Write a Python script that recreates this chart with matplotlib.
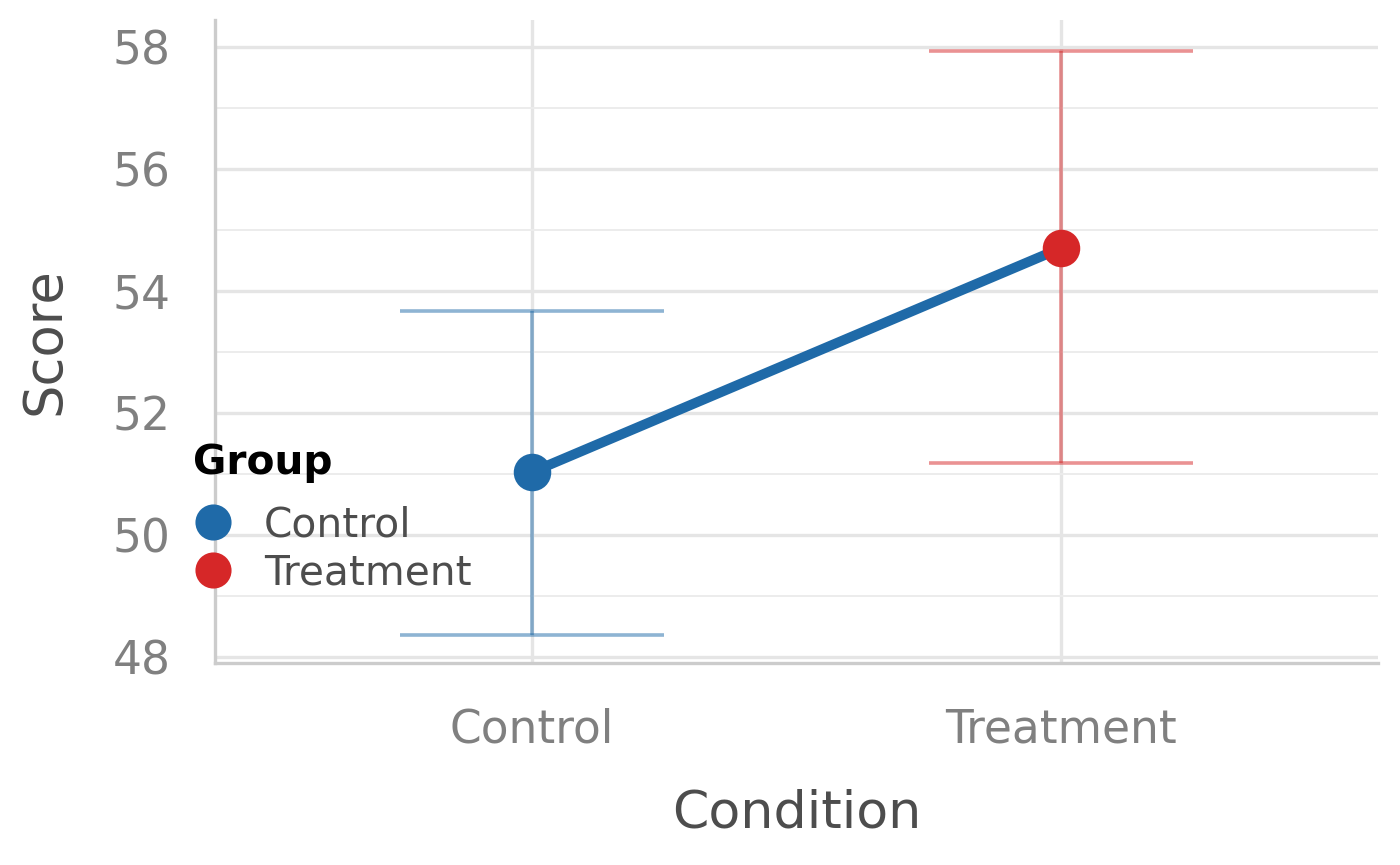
import matplotlib
matplotlib.use('Agg')
import matplotlib.pyplot as plt
from matplotlib.lines import Line2D

conditions = ['Control', 'Treatment']
means = [51.03, 54.70]
lower = [48.36, 51.18]
upper = [53.67, 57.93]
colors = ['#1f6aa8', '#d62728']
groups = ['Control', 'Treatment']

plt.rcParams['font.family'] = 'DejaVu Sans'

fig = plt.figure(figsize=(7, 4.325), dpi=200)
ax = fig.add_axes([215 / 1400, 1 - 663 / 865, 1163 / 1400, 643 / 865])

x = list(range(len(conditions)))

# error bars
for i in x:
    ax.vlines(i, lower[i], upper[i], color=colors[i], alpha=0.5, lw=1.3, zorder=2)
    ax.hlines([lower[i], upper[i]], i - 0.25, i + 0.25, color=colors[i], alpha=0.5, lw=1.3, zorder=2)

# connecting line
ax.plot(x, means, color=colors[0], lw=3.6, zorder=3, solid_capstyle='butt')
for i in x:
    ax.plot(i, means[i], 'o', color=colors[i], ms=12.5, zorder=4)

ax.set_xlim(-0.6, 1.6)
ax.set_ylim(47.9, 58.44)
ax.set_xticks(x)
ax.set_xticklabels(conditions)
ax.set_yticks([48, 50, 52, 54, 56, 58])
ax.set_yticks([49, 51, 53, 55, 57], minor=True)

ax.grid(which='major', color='#e5e5e5', lw=1.2)
ax.grid(which='minor', axis='y', color='#ececec', lw=0.7)
ax.set_axisbelow(True)

for s in ['top', 'right']:
    ax.spines[s].set_visible(False)
for s in ['left', 'bottom']:
    ax.spines[s].set_color('#cccccc')
    ax.spines[s].set_linewidth(1.2)

ax.tick_params(which='both', length=0, labelsize=16.4, labelcolor='#808080')
ax.tick_params(axis='x', pad=16)
ax.tick_params(axis='y', pad=16)

ax.set_xlabel('Condition', fontsize=18.8, color='#4d4d4d', labelpad=13)
ax.set_ylabel('Score', fontsize=19, color='#4d4d4d', labelpad=15)

handles = [Line2D([], [], marker='o', ls='', color=c, ms=12) for c in colors]
leg = fig.legend(handles, groups, title='Group', loc='upper left',
                 bbox_to_anchor=(0.123, 0.511), frameon=False, fontsize=14.7,
                 handletextpad=0.75, labelspacing=0.2, borderpad=0, handlelength=1.0)
leg.get_title().set_fontweight('bold')
leg.get_title().set_fontsize(14.7)
leg._legend_box.align = 'left'
leg._legend_box.sep = 8
for t in leg.get_texts():
    t.set_color('#4d4d4d')

fig.savefig('out.png', dpi=200)
